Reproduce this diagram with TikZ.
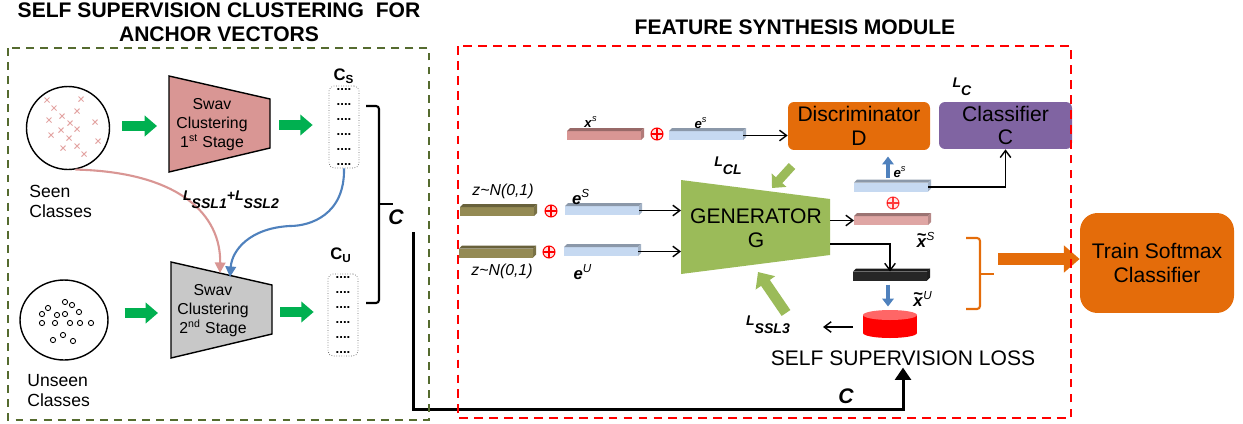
\documentclass[tikz,border=0pt]{standalone}
\usepackage{fontspec}
\setmainfont{Liberation Sans}
\usetikzlibrary{arrows.meta,calc,shapes.geometric}

\definecolor{olivebox}{HTML}{556B2F}
\definecolor{pinkfill}{HTML}{D99694}
\definecolor{crosspink}{HTML}{E3A5A3}
\definecolor{grayfill}{HTML}{C8C8C8}
\definecolor{fatgreen}{HTML}{00B050}
\definecolor{lightgreen}{HTML}{9BBB59}
\definecolor{curveblue}{HTML}{4F81BD}
\definecolor{boxorange}{HTML}{E46C0A}
\definecolor{boxpurple}{HTML}{8064A2}
\definecolor{barblue}{HTML}{C6D9F1}
\definecolor{barolive}{HTML}{948A54}
\definecolor{barblack}{HTML}{262626}

\tikzset{
  title/.style={font=\fontsize{12}{13.7}\selectfont\bfseries, align=center, inner sep=0},
  swav/.style={font=\fontsize{9}{10.8}\selectfont, align=center, inner sep=0},
  classes/.style={font=\fontsize{10}{11.4}\selectfont, align=left, inner sep=0, anchor=west},
  modbox/.style={font=\fontsize{12}{13.5}\selectfont, align=center, inner sep=0, rounded corners=0.12cm},
  vecbox/.style={draw=black!60, densely dotted, rounded corners=0.1cm, minimum width=0.6cm, minimum height=1.64cm, inner sep=1pt, align=center, font=\fontsize{7.5}{8.55}\selectfont\bfseries},
  vecbar/.style={minimum width=1.48cm, minimum height=0.18cm, inner sep=0, outer sep=0},
  oplus/.style={circle, draw=red, fill=red!12, line width=0.6pt, minimum size=0.24cm, inner sep=0,
    path picture={\draw[red, line width=0.6pt] (path picture bounding box.north) -- (path picture bounding box.south)
      (path picture bounding box.west) -- (path picture bounding box.east);}},
  losslab/.style={font=\fontsize{8}{9}\selectfont\bfseries\itshape, inner sep=0},
  symlab/.style={font=\fontsize{9.5}{11}\selectfont, inner sep=0},
  smalllab/.style={font=\fontsize{7.5}{9}\selectfont, inner sep=0},
  crossmark/.style={draw=crosspink, line width=0.6pt},
  greenarrow/.style={draw=fatgreen, line width=6pt, -{Triangle[length=7pt,width=11.5pt]}},
  lclarrow/.style={draw=lightgreen, line width=5pt, -{Triangle[length=6pt,width=11pt]}},
  sslarrow/.style={draw=lightgreen, line width=6pt, -{Triangle[length=7.5pt,width=13pt]}},
  bluearrow/.style={draw=curveblue, line width=2.6pt, -{Triangle[length=4.5pt,width=6.5pt]}},
  orangefat/.style={draw=boxorange, line width=7pt, -{Triangle[length=9pt,width=15pt]}},
  thinarrow/.style={line width=0.8pt, -{Straight Barb[length=4pt,width=6pt]}},
  cline/.style={line width=1.7pt, -{Triangle[length=7pt,width=9pt]}},
  curvearrow/.style={line width=1.2pt, -{Triangle[length=6pt,width=6pt]}}
}

% a flat feature bar with a little depth
\newcommand{\featbar}[3]{%
  \node[vecbar, fill=#2] (#1) at (#3) {};
  \fill[#2!70!black] (#1.north west) -- ++(3,-3) -- ++(74,0) -- (#1.north east) -- cycle;
  \fill[#2!82!black] (#1.north east) -- ++(3,-3) -- ++(0,9) -- (#1.south east) -- cycle;
}
\newcommand{\lossL}[1]{L\raisebox{-1.1ex}{#1}}
\newcommand{\tildex}{\ooalign{\textit{x}\cr\hidewidth\raisebox{0.42em}{\textasciitilde}\hidewidth\cr}}
\def\vecdots{....\\....\\....\\....\\....\\....}

\begin{document}
\begin{tikzpicture}[x=0.02cm,y=-0.02cm]
%%%%% START %%%%%
\useasboundingbox (0,0) rectangle (1243,423);

\node[title] (lefttitle) at (219,22) {SELF SUPERVISION CLUSTERING\ \ FOR\\ANCHOR VECTORS};
\node[title] (righttitle) at (795,27) {FEATURE SYNTHESIS MODULE};

% seen / unseen classes
\node[draw, circle, line width=0.8pt, minimum size=1.66cm, inner sep=0] (seen) at (68,128) {};
\foreach \cx/\cy in {47/100,81/99,54/108,77/111,62/116,49/120,70/123,95/122,61/130,77/129,51/135,69/138,98/141,63/148,77/146,84/154}
  \draw[crossmark] (\cx-2.5,\cy-2.5) -- (\cx+2.5,\cy+2.5) (\cx-2.5,\cy+2.5) -- (\cx+2.5,\cy-2.5);
\node[classes] (seenlab) at (29,201) {Seen\\Classes};

\node[draw, ellipse, line width=0.8pt, minimum width=1.76cm, minimum height=1.6cm, inner sep=0] (unseen) at (64,320) {};
\foreach \ox/\oy in {65/302,72/305,48/308,79/312,42/314,57/315,65/314,42/323,55/323,70/323,80/323,91/323,63/335,53/340,73/341}
  \draw[line width=0.5pt] (\ox,\oy) circle (2.6);
\node[classes] (unseenlab) at (27,391) {Unseen\\Classes};

% swav stages
\draw[fill=pinkfill, line width=0.8pt] (169,76) -- (270,99) -- (270,148) -- (169,172) -- cycle;
\node[swav] (swav1) at (212,125) {Swav\\Clustering\\1\textsuperscript{st} Stage};
\draw[fill=grayfill, line width=0.8pt] (171,262) -- (272,285) -- (272,334) -- (171,358) -- cycle;
\node[swav] (swav2) at (213,311) {Swav\\Clustering\\2\textsuperscript{nd} Stage};
\coordinate (t1w) at (169,126);
\coordinate (t1e) at (270,125);
\coordinate (t2w) at (171,313);
\coordinate (t2e) at (272,312);
\coordinate (t2pink) at (220,273);
\coordinate (t2blue) at (230,277);

% anchor vectors
\node[vecbox] (cs) at (344,127) {\vecdots};
\node[vecbox] (cu) at (343,315) {\vecdots};
\node[symlab, font=\fontsize{9.5}{11}\selectfont\bfseries] (cslab) at (344,76) {C\textsubscript{S}};
\node[symlab, font=\fontsize{9.5}{11}\selectfont\bfseries] (culab) at (341,255) {C\textsubscript{U}};

\draw[greenarrow] ($(seen.east |- t1w)+(12,0)$) -- ($(t1w)+(-12,0)$);
\draw[greenarrow] ($(t1e)+(9,0)$) -- ($(cs.west |- t1e)+(-16,0)$);
\draw[greenarrow] ($(unseen.east |- t2w)+(16,0)$) -- ($(t2w)+(-13,0)$);
\draw[greenarrow] ($(t2e)+(8,0)$) -- ($(cu.west |- t2e)+(-14,0)$);

\draw[curvearrow, draw=pinkfill] (seen.-80) .. controls (180,172) and (221,215) .. (t2pink);
\draw[curvearrow, draw=curveblue] (cs.south) .. controls (345,215) and (310,226) .. (290,226)
  .. controls (250,228) and (232,250) .. (t2blue);
\node[losslab] (lssl12) at (231,200) {\lossL{SSL1}+\lossL{SSL2}};

% bracket C
\draw[line width=1.2pt, rounded corners=0.06cm] (366,106) -- (379,106) -- (379,303) -- (366,303);
\draw[line width=1.2pt] (379,204) -- (393,204);
\node[font=\fontsize{12}{13}\selectfont\bfseries\itshape, inner sep=0] (cbig) at (396,217) {C};

% feature synthesis
\featbar{xsbar}{pinkfill}{604,135.5}
\node[oplus] (optop) at (657,134) {};
\featbar{estop}{barblue}{706,135.5}
\node[smalllab] (xslab) at (591,122) {\textbf{\textit{x}}\textsuperscript{\textit{s}}};
\node[smalllab] (estoplab) at (701,123) {\textbf{\textit{e}}\textsuperscript{\textit{s}}};

\node[modbox, fill=boxorange, minimum width=2.84cm, minimum height=0.96cm] (disc) at (859,126) {Discriminator\\D};
\node[modbox, fill=boxpurple, minimum width=2.66cm, minimum height=0.94cm] (cls) at (1005.5,125.5) {Classifier\\C};
\node[losslab] (lc) at (962,87) {\lossL{C}};
\node[losslab] (lcl) at (728,166) {\lossL{CL}};

\featbar{z1}{barolive}{497,211.5}
\node[oplus] (opz1) at (551,211) {};
\featbar{esmid}{barblue}{602,210.5}
\featbar{z2}{barolive}{496,253}
\node[oplus] (opz2) at (549,252) {};
\featbar{eu}{barblue}{601,251.5}
\node[symlab, font=\fontsize{9}{11}\selectfont\itshape] (zlab1) at (503,191) {z\textasciitilde N(0,1)};
\node[symlab, font=\fontsize{9}{11}\selectfont\itshape] (zlab2) at (502,271) {z\textasciitilde N(0,1)};
\node[symlab] (esmidlab) at (581,197) {\textbf{\textit{e}}\textsuperscript{\textit{S}}};
\node[symlab] (eulab) at (583,272) {\textbf{\textit{e}}\textsuperscript{\textit{U}}};

\fill[lightgreen] (681,180) -- (830,199) -- (830,255) -- (681,274) -- cycle;
\node[modbox] (gen) at (756,228.5) {GENERATOR\\G};
\coordinate (genL) at (681,0);
\coordinate (genR) at (830,0);
\coordinate (genout) at (830,244);

\draw[thinarrow] (estop.east) -- (estop.east -| disc.west);
\draw[thinarrow] (esmid.east) -- (esmid.east -| genL);
\draw[thinarrow] (eu.east) -- (eu.east -| genL);

\featbar{esr}{barblue}{891,187}
\node[oplus, opacity=0.75] (opr) at (893,203) {};
\featbar{xts}{pinkfill!85!white}{891,220.5}
\featbar{xtu}{barblack}{890,276}
\draw[thinarrow] (genR |- xts.west) -- (xts.west);
\draw[thinarrow] (genout) -| (xtu.north);
\draw[thinarrow] (esr.east) -| (cls.south);
\draw[bluearrow] ($(esr.north)+(-3,-5)$) -- ++(0,-21);
\draw[bluearrow] ($(xtu.south)+(-2,4)$) -- ++(0,22);
\node[smalllab] (esrlab) at (900,172) {\textbf{\textit{e}}\textsuperscript{\textit{s}}};
\node[symlab] (xtslab) at (926,240) {\textbf{\tildex}\textsuperscript{\textit{S}}};
\node[symlab] (xtulab) at (923,299) {\textbf{\tildex}\textsuperscript{\textit{U}}};

% self supervision loss
\fill[red] (863,315) rectangle (917,333);
\fill[red] (890,333) ellipse (27 and 5);
\fill[red!60] (890,315) ellipse (27 and 5);
\coordinate (cyl) at (863,327);
\coordinate (lossend) at (823,327);
\draw[thinarrow] ($(cyl)+(-10,0)$) -- (lossend);
\node[font=\fontsize{12}{13}\selectfont, inner sep=1pt] (losstxt) at (903,358) {SELF SUPERVISION LOSS};
\node[losslab] (lssl3) at (768,325) {\lossL{SSL3}};
\draw[lclarrow] (792,166) -- (772,188);
\draw[sslarrow] (786,313) -- (758,272);

% train softmax
\draw[boxorange, line width=1.2pt, rounded corners=0.06cm] (966,238) -- (980,238) -- (980,309) -- (966,309);
\draw[boxorange, line width=1.2pt] (980,274) -- (994,274);
\node[modbox, fill=boxorange, rounded corners=0.35cm, minimum width=3.08cm, minimum height=2cm] (train) at (1157,263) {Train Softmax\\Classifier};
\coordinate (bracetip) at (998,259);
\draw[orangefat] (bracetip) -- (bracetip -| train.west);

% anchor vectors to the loss
\coordinate (cstart) at (413,232);
\coordinate (cbottom) at (413,409);
\draw[cline] (cstart) -- (cbottom) -| (losstxt.south);
\node[font=\fontsize{12}{13}\selectfont\bfseries\itshape, inner sep=0] (cbottomlab) at (846,396) {C};

% module frames
\draw[olivebox, line width=1.4pt, dash pattern=on 4.5pt off 3.5pt] (8,48) rectangle (429,420);
\draw[red, line width=1.2pt, dash pattern=on 5pt off 3.5pt] (458,46) rectangle (1071,418);
%%%%% END %%%%%
\end{tikzpicture}
\end{document}
